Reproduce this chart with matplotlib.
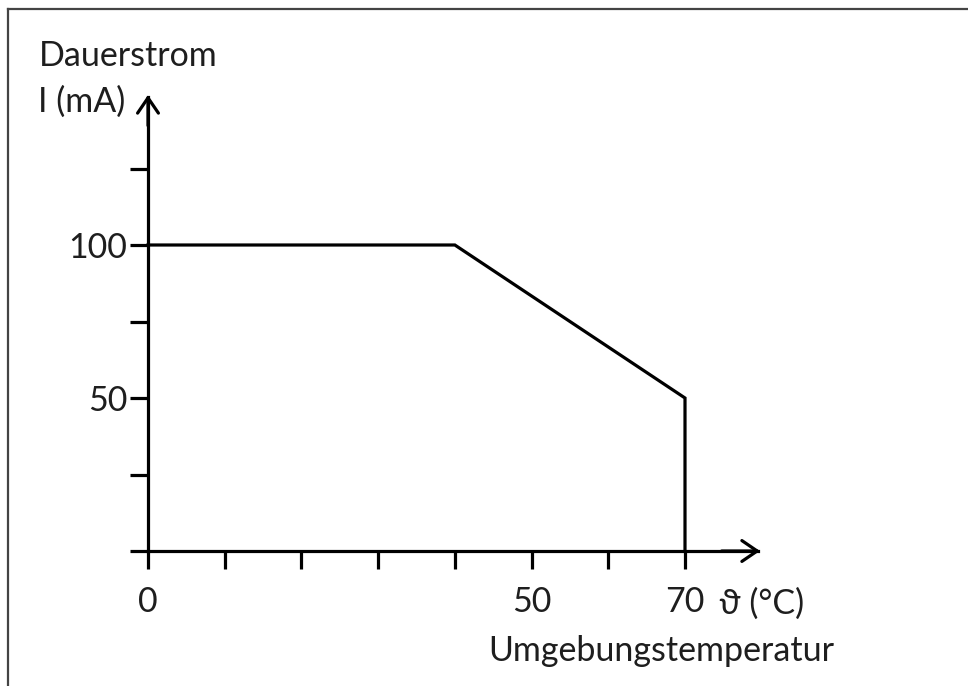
import matplotlib
matplotlib.use('Agg')
import matplotlib.pyplot as plt
from matplotlib.lines import Line2D

# Dauerstrom über Umgebungstemperatur
temp = [0, 40, 70, 70]
current = [100, 100, 50, 0]

x_major = [0, 50, 70]
x_minor = [10, 20, 30, 40, 60]
y_major = [50, 100]
y_minor = [0, 25, 75, 125]

W, H = 968, 686
plt.rcParams['font.family'] = ['Lato', 'DejaVu Sans']
fig = plt.figure(figsize=(W / 100, H / 100), dpi=100)
ax = fig.add_axes([0, 0, 1, 1])

# pixel mapping: x=0 -> 148px, x=70 -> 685px ; y=0 -> 551px, y=100 -> 245px (from top)
sx = (685 - 148) / 70
sy = (551 - 245) / 100
ax.set_xlim(-148 / sx, (W - 148) / sx)
ax.set_ylim(-(H - 551) / sy, 551 / sy)

lw = 2.3
ax.plot(temp, current, color='black', lw=lw, solid_joinstyle='miter')

for s in ['top', 'right']:
    ax.spines[s].set_visible(False)
for s in ['left', 'bottom']:
    ax.spines[s].set_position(('data', 0))
    ax.spines[s].set_linewidth(lw)
x_end = (760 - 148) / sx
y_end = (551 - 95) / sy
ax.spines['bottom'].set_bounds(0, x_end - 0.3)
ax.spines['left'].set_bounds(0, y_end - 0.8)

fs = 24.5
tc = '#1e1e1e'
ax.set_xticks(x_major)
ax.set_xticks(x_minor, minor=True)
ax.set_yticks(y_major)
ax.set_yticks(y_minor, minor=True)
ax.tick_params(which='both', direction='out', length=13, width=lw, color='black')
ax.tick_params(axis='both', labelsize=fs, labelcolor=tc)
ax.tick_params(axis='x', pad=12)
ax.tick_params(axis='y', pad=2)

# arrow heads
hp = dict(arrowstyle='->,head_length=1.1,head_width=0.75', lw=lw, color='black',
          shrinkA=0, shrinkB=0)
ax.annotate('', xy=(x_end, 0), xytext=(x_end - 5, 0), arrowprops=hp)
ax.annotate('', xy=(0, y_end), xytext=(0, y_end - 10), arrowprops=hp)

fig.text(39 / W, 1 - 66 / H, 'Dauerstrom', fontsize=fs, color=tc, va='baseline')
fig.text(38 / W, 1 - 112 / H, 'I (mA)', fontsize=fs, color=tc, va='baseline')
fig.text(719 / W, 1 - 614 / H, 'ϑ (°C)', fontsize=fs, color=tc, va='baseline')
fig.text(488 / W, 1 - 661 / H, 'Umgebungstemperatur', fontsize=fs, color=tc, va='baseline')

# frame lines at left and top
fig.add_artist(Line2D([8 / W, 8 / W], [0, 1 - 9 / H], color='#444444', lw=1.6))
fig.add_artist(Line2D([8 / W, 1], [1 - 9 / H, 1 - 9 / H], color='#444444', lw=1.6))

fig.savefig('out.png', dpi=100)
